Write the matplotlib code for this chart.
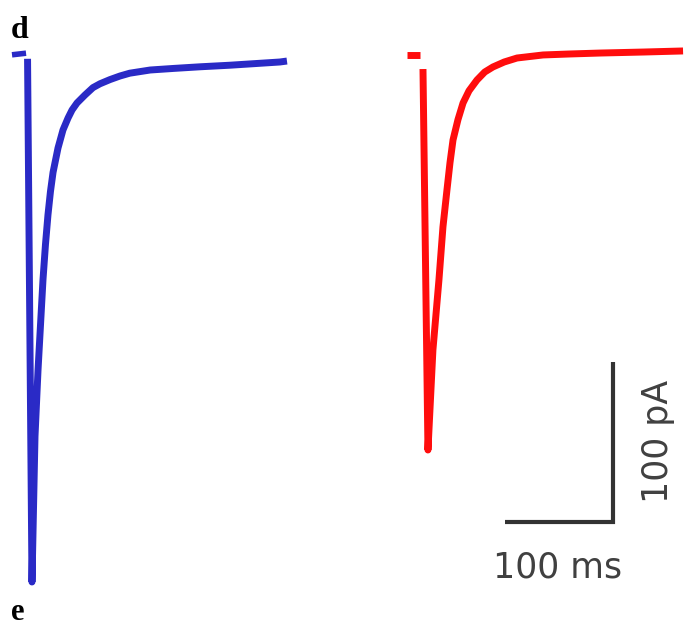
import numpy as np
import matplotlib.pyplot as plt

# traces: time (ms, from start of sweep) and current (pA)
blue_pre_t = [0.0, 13.0]
blue_pre_i = [-0.5, 0.5]
blue_t = [14.4, 18.5, 21.3, 24.1, 28.7, 31.0, 33.3, 35.6, 38.0, 42.6, 47.2,
          51.9, 55.6, 60.2, 67.6, 75.0, 81.5, 90.7, 100.0, 109.0, 128.0, 150.0,
          174.0, 202.0, 225.0, 248.0, 254.6]
blue_i = [-3.0, -330.0, -239.0, -197.5, -141.0, -119.0, -100.6, -86.0, -74.0,
          -58.75, -47.5, -40.0, -35.0, -30.6, -25.6, -21.0, -18.6, -16.0, -13.75,
          -12.0, -10.0, -9.0, -8.0, -7.0, -6.0, -5.0, -4.4]

red_pre_t = [0.0, 12.0]
red_pre_i = [-0.6, -0.6]
red_t = [14.8, 19.4, 24.0, 29.6, 33.3, 37.0, 39.8, 42.6, 47.2, 51.9, 57.4,
         64.8, 72.0, 79.6, 90.0, 101.9, 126.0, 150.0, 178.7, 220.0, 255.6]
red_i = [-9.4, -247.5, -185.0, -141.0, -108.0, -85.0, -68.0, -53.75, -41.0,
         -30.6, -23.0, -16.25, -11.25, -8.1, -5.0, -2.5, -0.6, 0.0, 0.6, 1.25,
         1.9]

scale_ms = 100
scale_pa = 100

# layout (pixels per unit and offsets)
W, H = 686, 628
px_ms = 1.08
px_pa = 1.6
base_px = 54
blue_x0 = 12 / px_ms
red_x0 = 407 / px_ms

fig = plt.figure(figsize=(W / 100, H / 100), dpi=100)
ax = fig.add_axes([0, 0, 1, 1])
ax.set_xlim(0, W / px_ms)
ax.set_ylim(-(H - base_px) / px_pa, base_px / px_pa)
ax.axis("off")

blue = "#2a2ac6"
red = "#ff0d0d"
lw = 5

ax.plot(np.array(blue_pre_t) + blue_x0, blue_pre_i, color=blue, lw=4, solid_capstyle="butt")
ax.plot(np.array(blue_t) + blue_x0, blue_i, color=blue, lw=lw,
        solid_capstyle="butt", solid_joinstyle="round")
ax.plot(np.array(red_pre_t) + red_x0, red_pre_i, color=red, lw=lw, solid_capstyle="butt")
ax.plot(np.array(red_t) + red_x0, red_i, color=red, lw=lw,
        solid_capstyle="butt", solid_joinstyle="round")

# scale bar
cx = 613 / px_ms
cy = -(522 - base_px) / px_pa
ax.plot([cx - scale_ms, cx, cx], [cy, cy, cy + scale_pa], color="#333333",
        lw=3, solid_capstyle="butt", solid_joinstyle="miter")

fig.text(558 / W, 1 - 577 / H, f"{scale_ms} ms", ha="center", va="baseline",
         fontsize=25, color="#404040", family="DejaVu Sans")
fig.text(658 / W, 1 - 441 / H, f"{scale_pa} pA", ha="center", va="center",
         rotation=90, fontsize=25, color="#404040", family="DejaVu Sans")

fig.text(11 / W, 1 - 38 / H, "d", ha="left", va="baseline", fontsize=23,
         fontweight="bold", family="Liberation Serif")
fig.text(11 / W, 1 - 620 / H, "e", ha="left", va="baseline", fontsize=22,
         fontweight="bold", family="Liberation Serif")

fig.savefig("out.png", dpi=100)
